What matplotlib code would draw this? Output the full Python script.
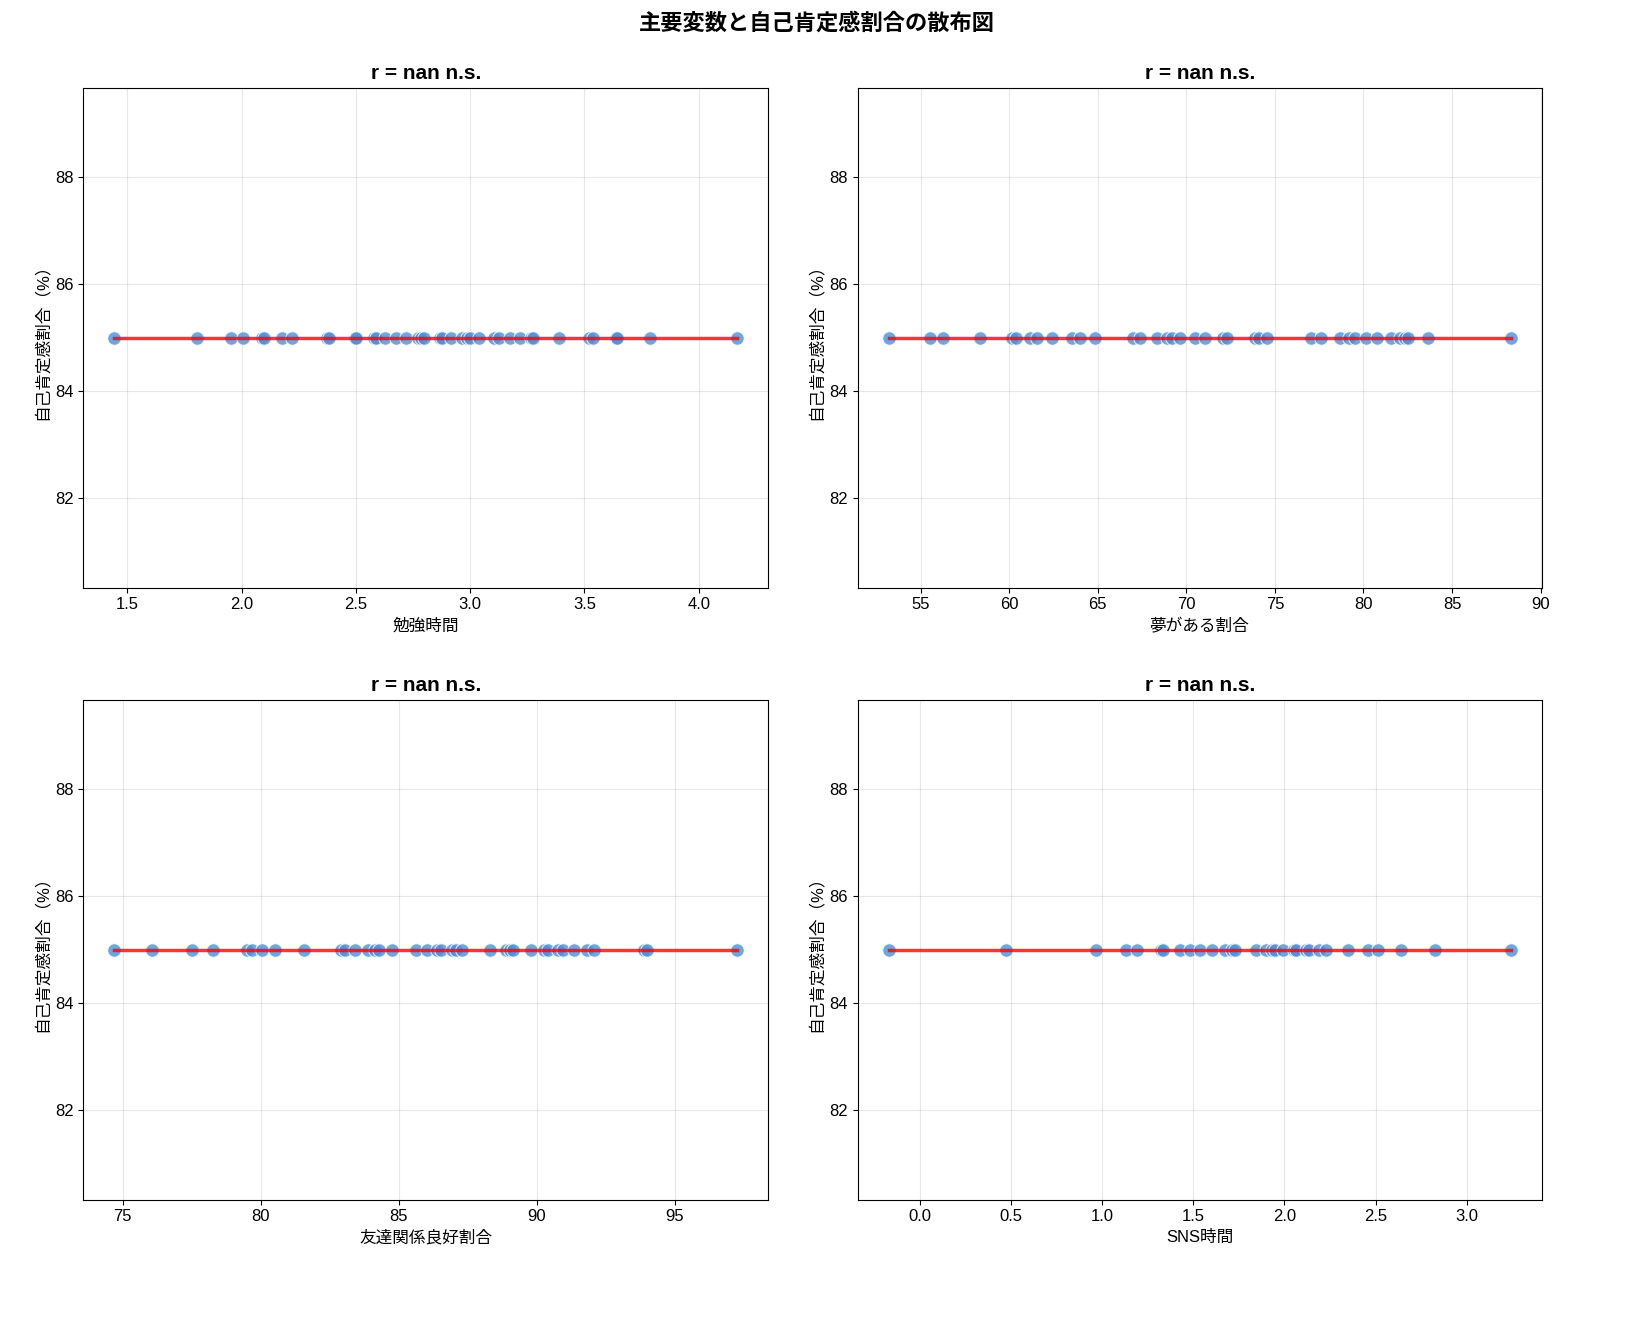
import numpy as np
import matplotlib
matplotlib.use("Agg")
import matplotlib.pyplot as plt

plt.rcParams['font.family'] = ['Liberation Sans', 'Noto Sans CJK JP', 'DejaVu Sans']

# ----------------------------
# Data
# ----------------------------
study_time = [1.444, 1.805, 1.955, 2.006, 2.088, 2.099, 2.178, 2.221, 2.375, 2.384,
              2.496, 2.502, 2.581, 2.590, 2.627, 2.674, 2.721, 2.772, 2.787, 2.800,
              2.867, 2.875, 2.918, 2.964, 2.987, 2.998, 3.039, 3.105, 3.127, 3.174,
              3.217, 3.264, 3.273, 3.390, 3.521, 3.539, 3.639, 3.642, 3.785, 4.167]
dream_rate = [53.21, 55.55, 56.28, 58.33, 60.14, 60.38, 61.18, 61.59, 62.43, 63.52,
              64.00, 64.84, 67.01, 67.38, 68.34, 68.90, 69.19, 69.67, 70.51, 71.04,
              72.08, 72.27, 73.89, 74.13, 74.54, 77.03, 77.58, 78.67, 79.20, 79.51,
              80.16, 80.77, 81.54, 82.09, 82.33, 82.50, 83.66, 88.35]
friend_rate = [74.70, 76.06, 77.50, 78.28, 79.50, 79.70, 80.05, 80.51, 81.57, 82.89,
               83.04, 83.43, 83.90, 84.13, 84.29, 84.75, 85.64, 86.04, 86.38, 86.54,
               86.93, 87.08, 87.28, 88.32, 88.87, 89.02, 89.13, 89.80, 90.26, 90.42,
               90.76, 90.96, 91.35, 91.82, 92.08, 93.87, 93.99, 97.25]
sns_time = [-0.169, 0.473, 0.968, 1.130, 1.191, 1.324, 1.336, 1.425, 1.481, 1.535,
            1.605, 1.676, 1.711, 1.730, 1.847, 1.898, 1.933, 1.950, 1.992, 2.051,
            2.062, 2.121, 2.133, 2.191, 2.226, 2.348, 2.461, 2.512, 2.641, 2.824, 3.245]
self_esteem_value = 85.0

panels = [
    ("勉強時間", study_time),
    ("夢がある割合", dream_rate),
    ("友達関係良好割合", friend_rate),
    ("SNS時間", sns_time),
]

# ----------------------------
# Plot
# ----------------------------
fig, axes = plt.subplots(2, 2, figsize=(16.34, 13.3), dpi=100)
fig.subplots_adjust(left=0.051, right=0.944, top=0.934, bottom=0.098,
                    wspace=0.131, hspace=0.224)

for ax, (label, xs) in zip(axes.flat, panels):
    x = np.array(xs)
    y = np.full(len(x), self_esteem_value)

    ax.scatter(x, y, s=95, color='#4a90d9', alpha=0.8, edgecolors='white', linewidths=0.8, zorder=2)

    # regression line (rounded to drop float noise from a flat fit)
    slope, intercept = np.round(np.polyfit(x, y, 1), 8)
    xl = np.array([x.min(), x.max()])
    ax.plot(xl, slope * xl + intercept, color='red', alpha=0.8, linewidth=2.5, zorder=3)

    with np.errstate(all='ignore'):
        r = np.corrcoef(x, y)[0, 1]
    ax.set_title(f"r = {r:.3f} n.s.", fontsize=15, fontweight='bold')

    ax.set_xlabel(label, fontsize=12)
    ax.set_ylabel("自己肯定感割合（%）", fontsize=12)
    ax.tick_params(labelsize=12)
    ax.grid(True, alpha=0.3)

fig.suptitle("主要変数と自己肯定感割合の散布図", fontsize=16, fontweight='bold', y=0.99)

plt.savefig("out.png", dpi=100)
plt.close()
